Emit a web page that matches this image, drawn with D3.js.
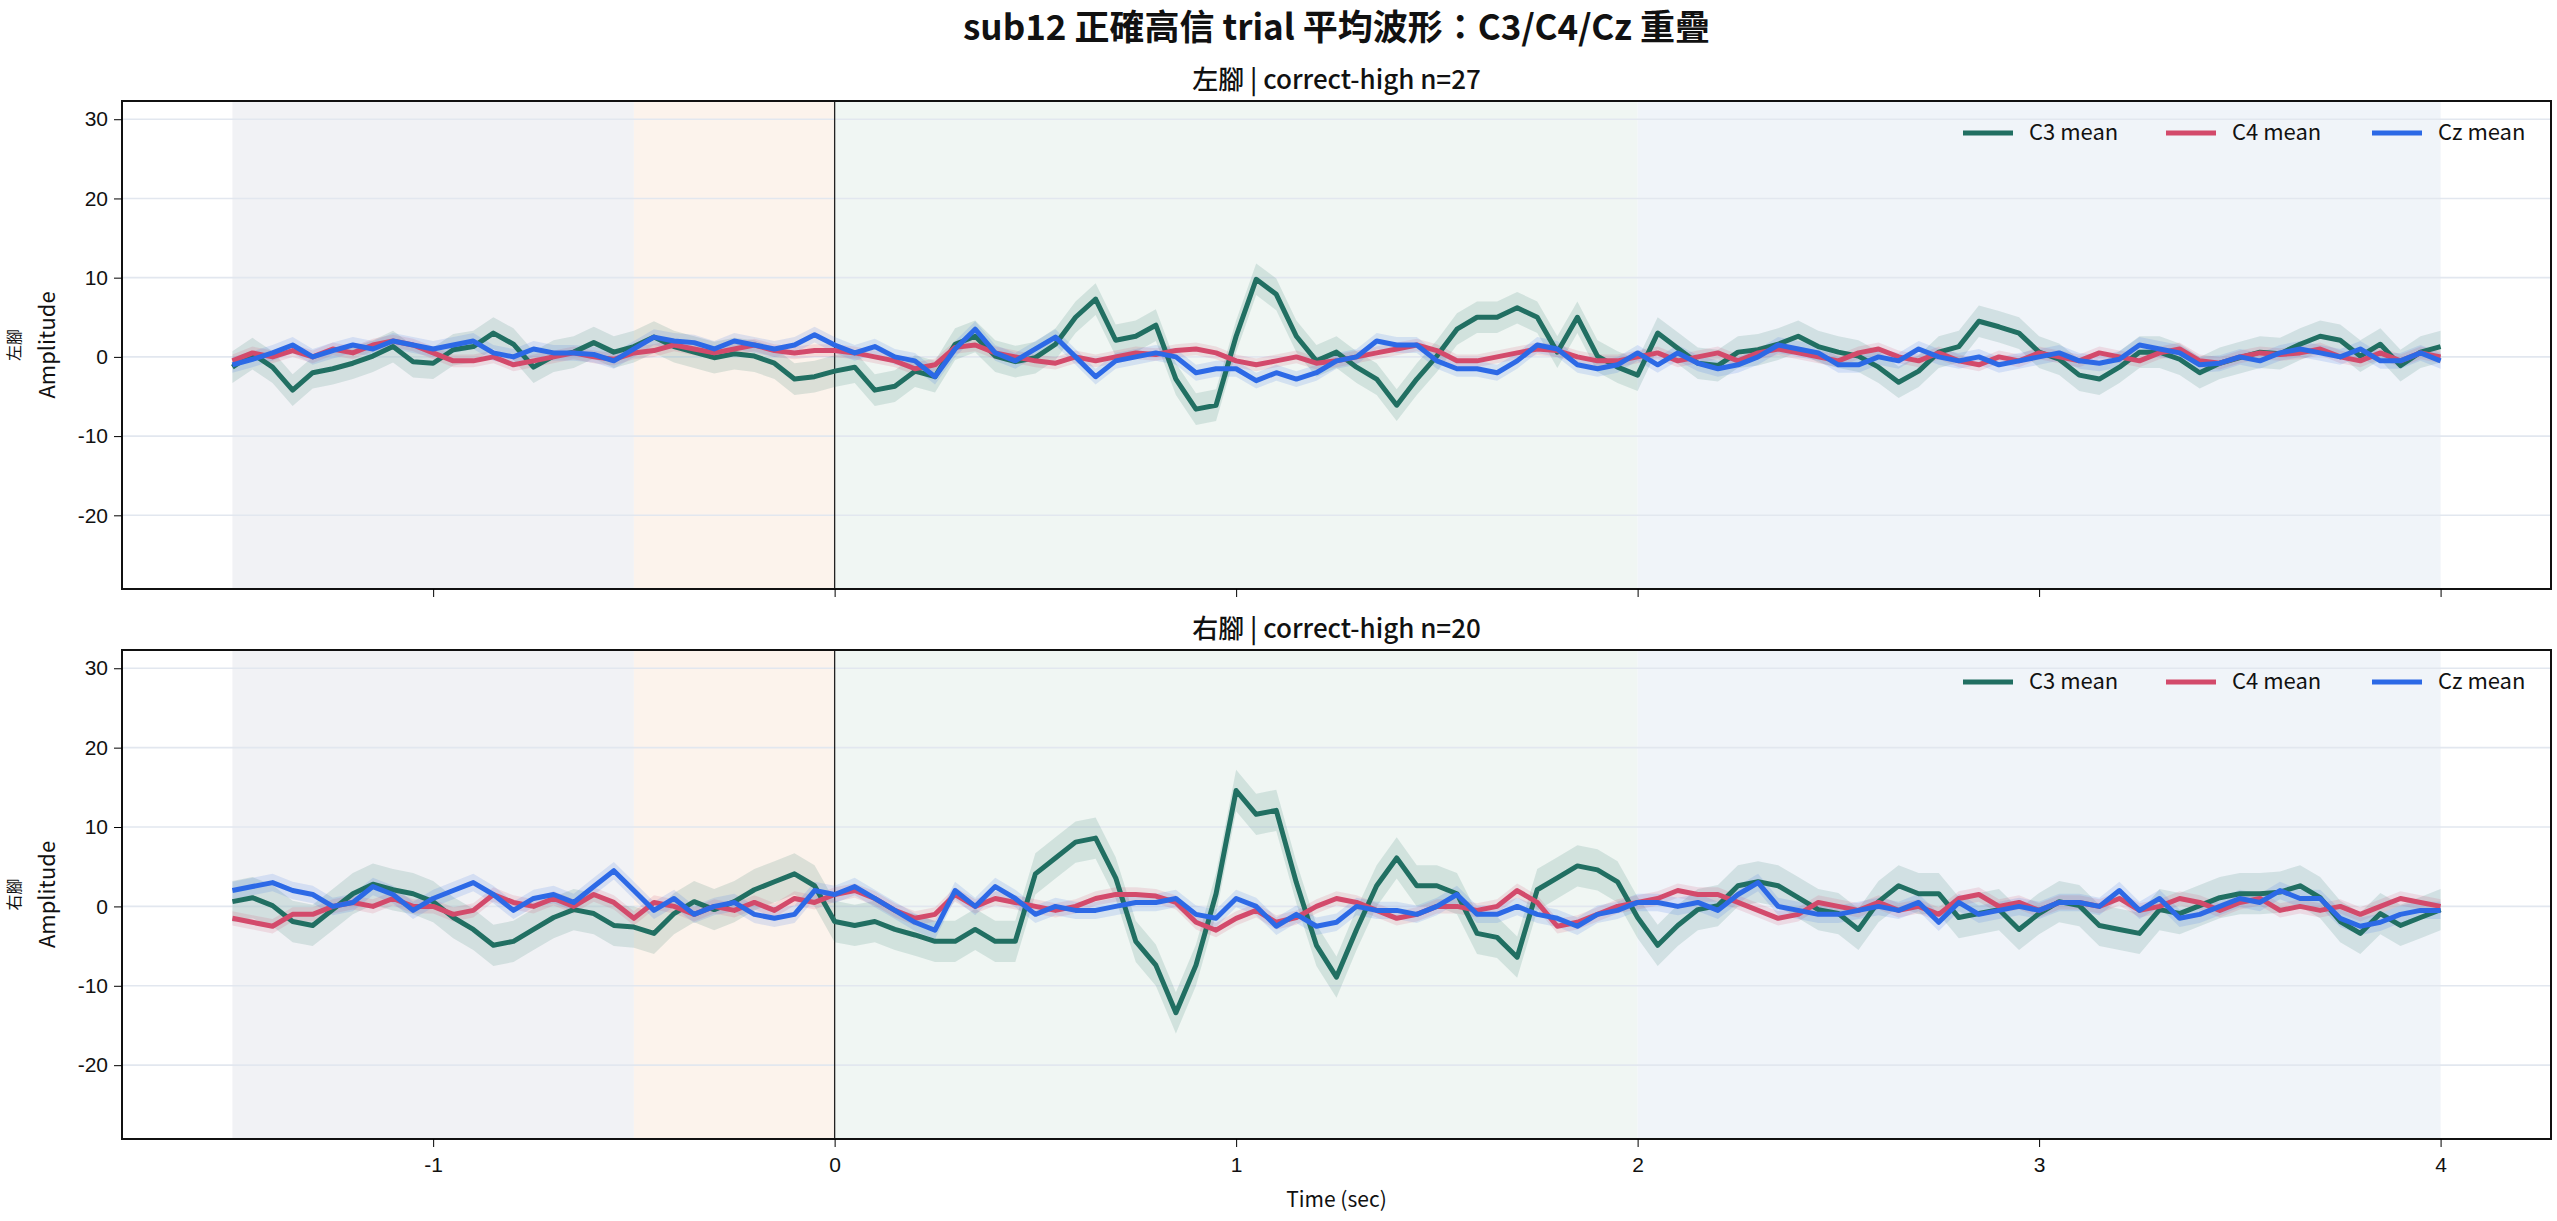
<!DOCTYPE html>
<html><head><meta charset="utf-8">
<script src="https://cdn.jsdelivr.net/npm/d3@7"></script>
<style>body{margin:0;background:#fff}svg{display:block;font-family:"Noto Sans CJK TC","Noto Sans",sans-serif}</style>
</head><body><svg id="c" width="2557" height="1221"></svg>
<script>
const title = "sub12 正確高信 trial 平均波形：C3/C4/Cz 重疊";
const panelTitles = ["左腳 | correct-high n=27", "右腳 | correct-high n=20"];
const panelLabels = ["左腳", "右腳"];
const channels = ["C3 mean", "C4 mean", "Cz mean"];
const colors = ["#216f62", "#d34a6b", "#2c69e6"];
const yTicks = [-20, -10, 0, 10, 20, 30];
const xTicks = [-1, 0, 1, 2, 3, 4];
const tStart = -1.5, tStep = 0.05;
const regions = [[-1.5, -0.5, "#f1f2f5"], [-0.5, 0, "#fcf3ec"], [0, 2, "#f0f6f3"], [2, 4, "#f0f4f9"]];

const leftC3 = [-1.3,0.4,-1.3,-4.2,-2,-1.5,-0.8,0.1,1.3,-0.6, -0.8,0.9,1.3,3,1.6,-1.3,0.1,0.6,1.8,0.6,
 1.3,2.5,1.3,0.6,-0.1,0.4,0.1,-0.8,-2.8,-2.5, -1.8,-1.3,-4.2,-3.7,-1.8,-2.5,1.6,2.6,0.1,-0.6,
 -0.1,1.6,5,7.3,2.1,2.6,4,-2.8,-6.6,-6.1, 2.6,9.8,7.9,2.6,-0.5,0.6,-1.3,-2.8,-6.1,-2.8,
 0.1,3.5,5,5,6.2,5,0.6,5,0.1,-1.3, -2.3,3,1.1,-0.8,-1.1,0.6,0.9,1.6,2.6,1.3,
 0.6,0.1,-1.3,-3.2,-1.8,0.6,1.3,4.5,3.8,3, 0.6,-0.3,-2.3,-2.8,-1.3,0.6,0.6,-0.3,-2,-0.8,
 -0.1,0.6,0.4,1.6,2.6,2.1,0.1,1.6,-1.1,0.6, 1.3];
const leftC4 = [-0.5,0.5,0,0.8,0,1,0.5,1.5,2,1.5, 0.5,-0.5,-0.5,0,-1,-0.5,0,0.5,0,-0.3,
 0.5,0.8,1.5,1,0.5,1,1.5,0.8,0.5,0.8, 0.8,0.5,0,-0.5,-1.5,-1,1.2,1.5,0.5,0,
 -0.5,-0.8,0,-0.5,0,0.5,0.3,0.8,1,0.5, -0.5,-1,-0.5,0,-0.8,-0.5,0,0.5,1,1.5,
 0.8,-0.5,-0.5,0,0.5,1,0.8,0,-0.5,-0.5, 0,0.5,-0.5,0,0.5,-0.5,0.5,1,0.5,0,
 -0.5,0.5,1,0,-0.5,0.5,-0.5,-1,0,-0.5, 0.5,0,-0.5,0.5,0,-0.5,0.5,1,-0.5,-0.8,
 0,0.5,0.3,0.5,1,0,-0.5,0.5,-0.5,0.5, 0];
const leftCz = [-1,-0.3,0.5,1.5,0,0.8,1.5,1,2,1.5, 1,1.5,2,0.5,0,1,0.5,0.5,0.3,-0.5,
 1,2.5,2,1.8,1,2,1.5,1,1.5,2.8, 1.5,0.5,1.3,0,-0.5,-2.5,1,3.5,0.5,-0.5,
 1,2.5,0,-2.5,-0.5,0,0.5,0,-2,-1.5, -1.5,-3,-2,-2.8,-2,-0.5,0,2,1.5,1.5,
 -0.5,-1.5,-1.5,-2,-0.5,1.5,1,-1,-1.5,-1, 0.5,-1,0.5,-0.8,-1.5,-1,0,1.5,1,0.5,
 -1,-1,0,-0.5,1,0,-0.5,0,-1,-0.5, 0,0.5,-0.5,-0.8,-0.3,1.5,1,0.5,-1,-0.8,
 0,-0.5,0.5,1,0.5,0,1,-0.5,-0.5,0.5, -0.5];
const rightC3 = [0.6,1.1,0.1,-1.9,-2.4,-0.4,1.6,2.8,2.1,1.6, 0.6,-1.4,-2.9,-4.9,-4.4,-2.9,-1.4,-0.4,-0.9,-2.4,
 -2.6,-3.4,-0.9,0.6,-0.4,0.6,2.1,3.1,4.1,2.6, -1.9,-2.4,-1.9,-2.9,-3.6,-4.4,-4.4,-2.9,-4.4,-4.4,
 4.1,6.1,8.1,8.6,3.6,-4.4,-7.4,-13.4,-7.4,1.6, 14.6,11.6,12.1,3,-4.9,-8.9,-2.9,2.6,6.1,2.6,
 2.6,1.6,-3.4,-3.9,-6.4,2.1,3.6,5.1,4.6,3.1, -1.4,-4.9,-2.4,-0.4,0.1,2.6,3.1,2.6,1.1,-0.4,
 -0.9,-2.9,0.6,2.6,1.6,1.6,-1.4,-0.9,-0.4,-2.9, -0.9,0.6,0.1,-2.4,-2.9,-3.4,-0.4,-0.9,0.1,1.1,
 1.6,1.6,1.8,2.6,1.1,-1.9,-3.4,-0.9,-2.4,-1.4, -0.4];
const rightC4 = [-1.5,-2,-2.5,-1,-1,0,0.5,0,1,0, 0,-1,-0.5,1.5,0.5,0,1,0,1.5,0.5,
 -1.5,0.5,0,-1,0,-0.5,0.5,-0.5,1,0.5, 1.5,2,1,-0.5,-1.5,-1,1.5,0,1,0.5,
 0,-0.5,0,1,1.5,1.5,1.3,0.5,-2,-3, -1.5,-0.5,-2,-1.4,0,1,0.5,-0.5,-1.5,-1,
 0,0,-0.5,0,2,0.5,-2.5,-2,-1,0, 0.5,1,2,1.5,1.5,0.5,-0.5,-1.5,-1,0.5,
 0,-0.5,0.5,-0.5,0,-1,1,1.5,0,0.5, -0.5,0.5,0.5,0,1,-0.5,0,1,0.5,-0.5,
 0.5,1,-0.5,0,-0.5,0,-1,0,1,0.5, 0];
const rightCz = [2,2.5,3,2,1.5,0,0.5,2.5,1.5,-0.5, 1,2,3,1.5,-0.5,1,1.5,0.5,2.5,4.5,
 2,-0.5,1,-1,0,0.5,-1,-1.5,-1,2, 1.5,2.5,1,-0.5,-2,-3,2,0,2.5,1,
 -1,0,-0.5,-0.5,0,0.5,0.5,1,-1,-1.5, 1,0,-2.5,-1,-2.5,-2,0,-0.5,-0.5,-1,
 0,1.5,-1,-1,0,-1,-1.5,-2.5,-1,-0.5, 0.5,0.5,0,0.5,-0.5,1.5,3,0,-0.5,-1,
 -1,-0.5,0,-0.5,0.5,-2,0.5,-1,-0.5,0, -0.5,0.5,0.5,0,2,-0.5,1,-1.5,-1,0,
 1,0.5,2,1,1,-1.5,-2.5,-2,-1,-0.5, -0.5];
const semLeft = [2.0, 0.8, 1.0];
const semRight = [2.6, 0.9, 1.1];

const panels = [
  {series: [leftC3, leftC4, leftCz], sem: semLeft, top: 101, bottom: 589},
  {series: [rightC3, rightC4, rightCz], sem: semRight, top: 650, bottom: 1139}
];

const svg = d3.select("#c");
const L = 122, R = 2551;
const x = d3.scaleLinear().domain([-1.775, 4.275]).range([L, R]);
const fmt = v => String(v);

svg.append("text").attr("x", (L + R) / 2).attr("y", 40).attr("text-anchor", "middle")
  .attr("font-size", 35).attr("font-weight", "bold").attr("fill", "#111").text(title);

panels.forEach((p, pi) => {
  const y = d3.scaleLinear().domain([-29.3, 32.3]).range([p.bottom, p.top]);
  const g = svg.append("g");
  g.append("text").attr("x", (L + R) / 2).attr("y", p.top - 12).attr("text-anchor", "middle")
    .attr("font-size", 26).attr("font-weight", 500).attr("fill", "#111").text(panelTitles[pi]);
  regions.forEach(r => g.append("rect").attr("x", x(r[0])).attr("width", x(r[1]) - x(r[0]))
    .attr("y", p.top).attr("height", p.bottom - p.top).attr("fill", r[2]));
  yTicks.forEach(v => g.append("line").attr("x1", L).attr("x2", R).attr("y1", y(v)).attr("y2", y(v))
    .attr("stroke", "#e2e7ef").attr("stroke-width", 1.6));
  g.append("line").attr("x1", x(0)).attr("x2", x(0)).attr("y1", p.top).attr("y2", p.bottom)
    .attr("stroke", "#222").attr("stroke-width", 1.3);
  const area = d3.area().x((d, i) => x(tStart + i * tStep));
  const line = d3.line().x((d, i) => x(tStart + i * tStep)).y(d => y(d));
  p.series.forEach((s, si) => {
    g.append("path").datum(s).attr("fill", colors[si]).attr("fill-opacity", 0.15)
      .attr("d", area.y0(d => y(d - p.sem[si])).y1(d => y(d + p.sem[si])));
  });
  p.series.forEach((s, si) => {
    g.append("path").datum(s).attr("fill", "none").attr("stroke", colors[si])
      .attr("stroke-width", 5).attr("stroke-linejoin", "round").attr("d", line);
  });
  g.append("rect").attr("x", L).attr("y", p.top).attr("width", R - L).attr("height", p.bottom - p.top)
    .attr("fill", "none").attr("stroke", "#111").attr("stroke-width", 2);
  const ya = g.append("g").attr("transform", `translate(${L},0)`)
    .call(d3.axisLeft(y).tickValues(yTicks).tickSize(8).tickPadding(6).tickFormat(fmt));
  ya.select(".domain").remove();
  ya.selectAll("text").attr("font-size", 21).attr("fill", "#111").style("font-family", "inherit");
  const xa = g.append("g").attr("transform", `translate(0,${p.bottom})`)
    .call(d3.axisBottom(x).tickValues(xTicks).tickSize(8).tickPadding(10)
      .tickFormat(pi === 1 ? fmt : ""));
  xa.select(".domain").remove();
  xa.selectAll("text").attr("font-size", 21).attr("fill", "#111").style("font-family", "inherit");
  const cy = (p.top + p.bottom) / 2;
  g.append("text").attr("transform", `translate(20,${cy}) rotate(-90)`).attr("text-anchor", "middle")
    .attr("font-size", 16).attr("fill", "#111").text(panelLabels[pi]);
  g.append("text").attr("transform", `translate(55,${cy}) rotate(-90)`).attr("text-anchor", "middle")
    .attr("font-size", 22).attr("fill", "#111").text("Amplitude");
  const lx = [1963, 2166, 2372];
  channels.forEach((c, ci) => {
    const ly = p.top + 32;
    g.append("line").attr("x1", lx[ci]).attr("x2", lx[ci] + 50).attr("y1", ly).attr("y2", ly)
      .attr("stroke", colors[ci]).attr("stroke-width", 5);
    g.append("text").attr("x", lx[ci] + 66).attr("y", ly + 7).attr("font-size", 22).attr("fill", "#111").text(c);
  });
});
svg.append("text").attr("x", x(1.25)).attr("y", 1207).attr("text-anchor", "middle")
  .attr("font-size", 21).attr("fill", "#111").text("Time (sec)");
</script></body></html>
